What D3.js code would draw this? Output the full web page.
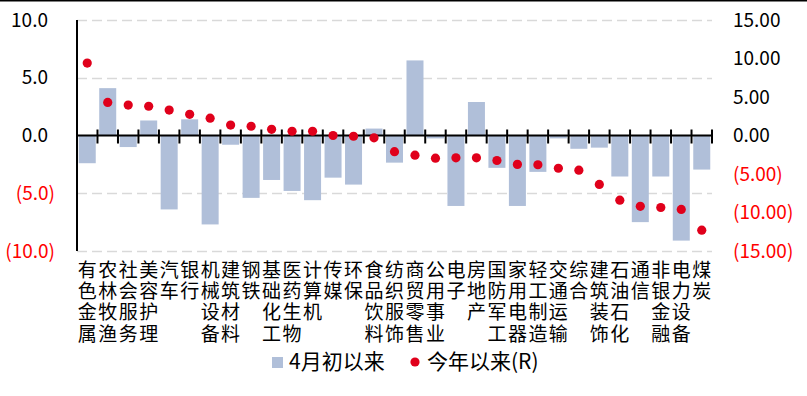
<!DOCTYPE html>
<html>
<head>
<meta charset="utf-8">
<script src="https://cdn.jsdelivr.net/npm/d3@7"></script>
<style>
  body { margin: 0; background: #fff; }
  svg text { font-family: "Noto Sans CJK SC", "Noto Sans", sans-serif; }
</style>
</head>
<body>
<div id="chart"></div>
<script>
const categories = ["有色金属", "农林牧渔", "社会服务", "美容护理", "汽车", "银行", "机械设备", "建筑材料",
  "钢铁", "基础化工", "医药生物", "计算机", "传媒", "环保", "食品饮料", "纺织服饰", "商贸零售",
  "公用事业", "电子", "房地产", "国防军工", "家用电器", "轻工制造", "交通运输", "综合", "建筑装饰",
  "石油石化", "通信", "非银金融", "电力设备", "煤炭"];
// 4月初以来 (left axis)
const sinceApril = [-2.4, 4.1, -1.0, 1.3, -6.4, 1.4, -7.7, -0.8, -5.4, -3.85, -4.8, -5.6, -3.65, -4.25,
  0.6, -2.35, 6.5, -0.25, -6.1, 2.9, -2.8, -6.1, -3.15, -0.25, -1.15, -1.05, -3.55, -7.5, -3.55, -9.1, -2.95];
// 今年以来 (right axis)
const ytd = [9.4, 4.3, 3.95, 3.8, 3.3, 2.75, 2.25, 1.35, 1.2, 0.8, 0.55, 0.55, 0.0, -0.1, -0.3, -2.1,
  -2.55, -2.95, -2.9, -2.9, -3.25, -3.75, -3.8, -4.25, -4.5, -6.35, -8.4, -9.2, -9.35, -9.6, -12.3];
const leftTicks = [10, 5, 0, -5, -10];
const rightTicks = [15, 10, 5, 0, -5, -10, -15];
const seriesNames = ["4月初以来", "今年以来(R)"];

const W = 807, H = 396;
const margin = {top: 20, right: 95, bottom: 145, left: 77};
const barColor = "#B0BFD9";
const dotColor = "#E0001B";

const svg = d3.select("#chart").append("svg")
  .attr("width", W)
  .attr("height", H);

svg.append("line")
  .attr("x1", 0).attr("x2", W).attr("y1", 0.5).attr("y2", 0.5)
  .attr("stroke", "#000").attr("stroke-width", 2);

const x = d3.scaleBand()
  .domain(categories)
  .range([margin.left, W - margin.right])
  .paddingInner(0.17)
  .paddingOuter(0.085);

const yL = d3.scaleLinear().domain([-10, 10]).range([H - margin.bottom, margin.top]);
const yR = d3.scaleLinear().domain([-15, 15]).range([H - margin.bottom, margin.top]);

const fmtL = v => v < 0 ? `(${Math.abs(v).toFixed(1)})` : v.toFixed(1);
const fmtR = v => v < 0 ? `(${Math.abs(v).toFixed(2)})` : v.toFixed(2);

// gridlines
svg.append("g").selectAll("line")
  .data(leftTicks.filter(d => d !== 0))
  .join("line")
    .attr("x1", margin.left)
    .attr("x2", W - margin.right)
    .attr("y1", d => Math.round(yL(d)) + 0.5)
    .attr("y2", d => Math.round(yL(d)) + 0.5)
    .attr("stroke", "#D9D9D9")
    .attr("stroke-width", 1.5)
    .attr("stroke-dasharray", "10,5");

// bars
svg.append("g").selectAll("rect")
  .data(categories.map((c, i) => ({c, v: sinceApril[i]})))
  .join("rect")
    .attr("x", d => x(d.c))
    .attr("width", x.bandwidth())
    .attr("y", d => yL(Math.max(0, d.v)))
    .attr("height", d => Math.abs(yL(d.v) - yL(0)))
    .attr("fill", barColor);

// zero axis with ticks between categories
const step = x.step();
svg.append("line")
  .attr("x1", margin.left).attr("x2", W - margin.right)
  .attr("y1", yL(0)).attr("y2", yL(0))
  .attr("stroke", "#000").attr("stroke-width", 2);
svg.append("g").selectAll("line")
  .data(d3.range(1, categories.length + 1))
  .join("line")
    .attr("x1", i => margin.left + i * step)
    .attr("x2", i => margin.left + i * step)
    .attr("y1", yL(0) - 6)
    .attr("y2", yL(0) + 8)
    .attr("stroke", "#000")
    .attr("stroke-width", 2);

// left axis line
svg.append("line")
  .attr("x1", margin.left).attr("x2", margin.left)
  .attr("y1", yL(10)).attr("y2", yL(-10))
  .attr("stroke", "#000").attr("stroke-width", 2);

// left tick labels
svg.append("g").selectAll("text")
  .data(leftTicks)
  .join("text")
    .attr("x", d => d < 0 ? 55 : 48)
    .attr("y", d => yL(d))
    .attr("dy", "0.35em")
    .attr("text-anchor", "end")
    .attr("font-size", 19)
    .attr("fill", d => d < 0 ? "#FF0000" : "#000")
    .text(fmtL);

// right tick labels
svg.append("g").selectAll("text")
  .data(rightTicks)
  .join("text")
    .attr("x", 733)
    .attr("y", d => yR(d))
    .attr("dy", "0.35em")
    .attr("text-anchor", "start")
    .attr("font-size", 19)
    .attr("fill", d => d < 0 ? "#FF0000" : "#000")
    .text(fmtR);

// dots
svg.append("g").selectAll("circle")
  .data(categories.map((c, i) => ({c, v: ytd[i]})))
  .join("circle")
    .attr("cx", d => x(d.c) + x.bandwidth() / 2)
    .attr("cy", d => yR(d.v))
    .attr("r", 4.6)
    .attr("fill", dotColor);

// category labels, one character per line
const catG = svg.append("g");
categories.forEach(c => {
  Array.from(c).forEach((ch, j) => {
    catG.append("text")
      .attr("x", x(c) + x.bandwidth() / 2)
      .attr("y", 270 + j * 21.3)
      .attr("dy", "0.35em")
      .attr("text-anchor", "middle")
      .attr("font-size", 19)
      .attr("fill", "#000")
      .text(ch);
  });
});

// legend
const lg = svg.append("g");
lg.append("rect")
  .attr("x", 272).attr("y", 357).attr("width", 11).attr("height", 11)
  .attr("fill", barColor);
lg.append("text")
  .attr("x", 289).attr("y", 362).attr("dy", "0.35em")
  .attr("font-size", 21).text(seriesNames[0]);
lg.append("circle")
  .attr("cx", 415).attr("cy", 362).attr("r", 4.6)
  .attr("fill", dotColor);
lg.append("text")
  .attr("x", 427).attr("y", 362).attr("dy", "0.35em")
  .attr("font-size", 21).text(seriesNames[1]);
</script>
</body>
</html>
